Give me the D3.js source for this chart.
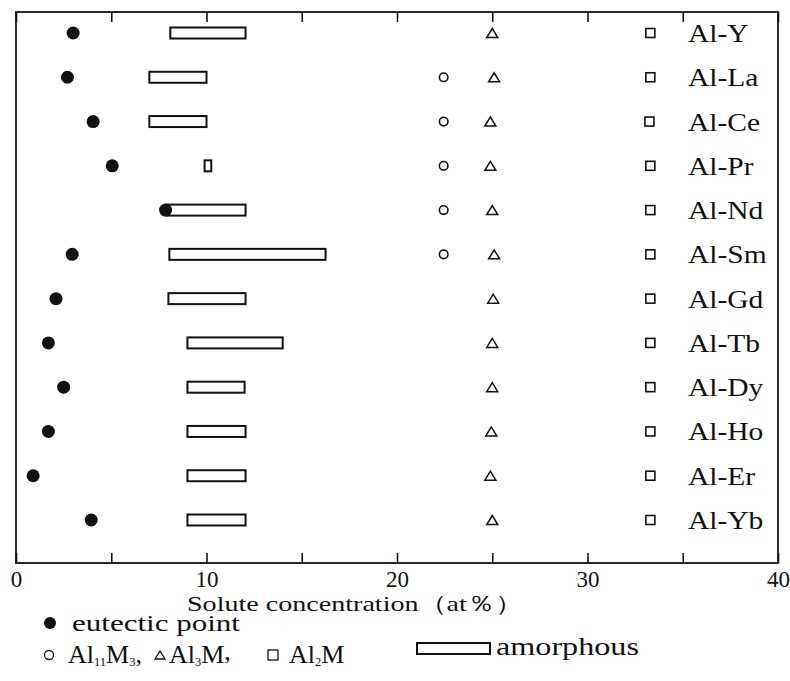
<!DOCTYPE html>
<html><head><meta charset="utf-8">
<script src="https://cdn.jsdelivr.net/npm/d3@7"></script>
<style>
html,body{margin:0;padding:0;background:#fff;}
svg{display:block;}
text{font-family:"Liberation Serif","Times New Roman",serif;fill:#111;}
</style></head>
<body><svg id="c" width="790" height="681"></svg>
<script>
const categories = ["Al-Y","Al-La","Al-Ce","Al-Pr","Al-Nd","Al-Sm","Al-Gd","Al-Tb","Al-Dy","Al-Ho","Al-Er","Al-Yb"];
const eutectic = [3.0, 2.7, 4.05, 5.05, 7.85, 2.95, 2.1, 1.7, 2.5, 1.7, 0.9, 3.95];
const amorphousStart = [8.1, 7.0, 7.0, 9.9, 7.9, 8.05, 8.0, 9.0, 9.0, 9.0, 9.0, 9.0];
const amorphousEnd = [12.05, 10.0, 10.0, 10.25, 12.05, 16.25, 12.05, 14.0, 12.0, 12.05, 12.05, 12.05];
const al11m3 = [null, 22.45, 22.45, 22.45, 22.45, 22.45, null, null, null, null, null, null];
const al3m = [25.0, 25.1, 24.9, 24.9, 25.0, 25.1, 25.05, 25.0, 25.0, 24.95, 24.9, 25.0];
const al2m = [33.3, 33.3, 33.25, 33.3, 33.3, 33.3, 33.3, 33.3, 33.3, 33.3, 33.3, 33.3];
const tickValues = [0, 5, 10, 15, 20, 25, 30, 35, 40];
const xTitle = "Solute concentration（at％）";

(function () {
const svg = d3.select("#c");
const L = 16, R = 778, T = 12, B = 563;
const x = d3.scaleLinear().domain([0, 40]).range([L, R]);
const y = d3.scalePoint().domain(categories).range([33, 520]);
const ink = "#111";

// frame
svg.append("rect").attr("x", L).attr("y", T).attr("width", R - L).attr("height", B - T)
  .attr("fill", "none").attr("stroke", ink).attr("stroke-width", 1.8);

// axes
const bottomAxis = d3.axisBottom(x).tickValues(tickValues).tickSize(-10).tickPadding(8)
  .tickFormat(d => d % 10 === 0 ? d : "");
const gb = svg.append("g").attr("transform", `translate(0,${B})`).call(bottomAxis);
gb.select(".domain").remove();
gb.selectAll("line").attr("stroke", ink).attr("stroke-width", 1.6);
gb.selectAll("text").style("font-size", "23px").style("font-family", "'Liberation Serif', serif").attr("fill", ink);

const topAxis = d3.axisTop(x).tickValues(tickValues).tickSize(-10).tickFormat("");
const gt = svg.append("g").attr("transform", `translate(0,${T})`).call(topAxis);
gt.select(".domain").remove();
gt.selectAll("line").attr("stroke", ink).attr("stroke-width", 1.6);

const rows = categories.map((c, i) => ({c, e: eutectic[i], a0: amorphousStart[i], a1: amorphousEnd[i],
  p11: al11m3[i], p3: al3m[i], p2: al2m[i]}));

// amorphous bars
svg.append("g").selectAll("rect").data(rows).join("rect")
  .attr("x", d => x(d.a0)).attr("y", d => y(d.c) - 5.5)
  .attr("width", d => x(d.a1) - x(d.a0)).attr("height", 11)
  .attr("fill", "#fff").attr("stroke", ink).attr("stroke-width", 2);

// eutectic points
svg.append("g").selectAll("circle").data(rows).join("circle")
  .attr("cx", d => x(d.e)).attr("cy", d => y(d.c)).attr("r", 6.5).attr("fill", ink);

// Al11M3
svg.append("g").selectAll("circle").data(rows.filter(d => d.p11 != null)).join("circle")
  .attr("cx", d => x(d.p11)).attr("cy", d => y(d.c)).attr("r", 4.3)
  .attr("fill", "none").attr("stroke", ink).attr("stroke-width", 1.6);

// Al3M triangles
const tri = (cx, cy, w, h) => `M${cx - w / 2},${cy + h / 2}L${cx + w / 2},${cy + h / 2}L${cx},${cy - h / 2}Z`;
svg.append("g").selectAll("path").data(rows).join("path")
  .attr("d", d => tri(x(d.p3), y(d.c), 11, 9))
  .attr("fill", "none").attr("stroke", ink).attr("stroke-width", 1.5).attr("stroke-linejoin", "miter");

// Al2M squares
svg.append("g").selectAll("rect").data(rows).join("rect")
  .attr("x", d => x(d.p2) - 4.5).attr("y", d => y(d.c) - 4.5).attr("width", 9).attr("height", 9)
  .attr("fill", "none").attr("stroke", ink).attr("stroke-width", 1.6);

// row labels
svg.append("g").selectAll("text").data(rows).join("text")
  .attr("transform", d => `translate(688,${y(d.c) + 9}) scale(1.18,1)`)
  .attr("font-size", 25).text(d => d.c);

// axis title
svg.append("text").attr("x", 187).attr("y", 611).attr("font-size", 22)
  .attr("textLength", 336).attr("lengthAdjust", "spacingAndGlyphs").text(xTitle);

// legend
const lg = svg.append("g");
lg.append("circle").attr("cx", 50).attr("cy", 623).attr("r", 6).attr("fill", ink);
lg.append("text").attr("x", 72).attr("y", 631).attr("font-size", 24)
  .attr("textLength", 168).attr("lengthAdjust", "spacingAndGlyphs").text("eutectic point");

lg.append("circle").attr("cx", 49).attr("cy", 655).attr("r", 4.5)
  .attr("fill", "none").attr("stroke", ink).attr("stroke-width", 1.3);
const formula = (x0, parts) => {
  const t = lg.append("text").attr("x", 0).attr("y", 0).attr("font-size", 25)
    .attr("transform", `translate(${x0},663) scale(1.04,1)`);
  parts.forEach(p => {
    const s = t.append("tspan").text(p[0]);
    if (p[1]) s.attr("font-size", 12).attr("dy", 3);
    else if (p[2]) s.attr("dy", -3);
  });
  return t;
};
formula(68, [["Al"], ["11", true], ["M", false, true], ["3", true], [",", false, true]]);
lg.append("path").attr("d", tri(160, 655, 10, 8)).attr("fill", "none").attr("stroke", ink).attr("stroke-width", 1.3);
formula(169, [["Al"], ["3", true], ["M", false, true], [",", false, true]]);
lg.append("rect").attr("x", 268).attr("y", 650).attr("width", 10).attr("height", 10)
  .attr("fill", "none").attr("stroke", ink).attr("stroke-width", 1.3);
formula(289, [["Al"], ["2", true], ["M", false, true]]);

lg.append("rect").attr("x", 417).attr("y", 643).attr("width", 73).attr("height", 11)
  .attr("fill", "#fff").attr("stroke", ink).attr("stroke-width", 2);
lg.append("text").attr("x", 496).attr("y", 655).attr("font-size", 25)
  .attr("textLength", 143).attr("lengthAdjust", "spacingAndGlyphs").text("amorphous");
})();
</script></body></html>
